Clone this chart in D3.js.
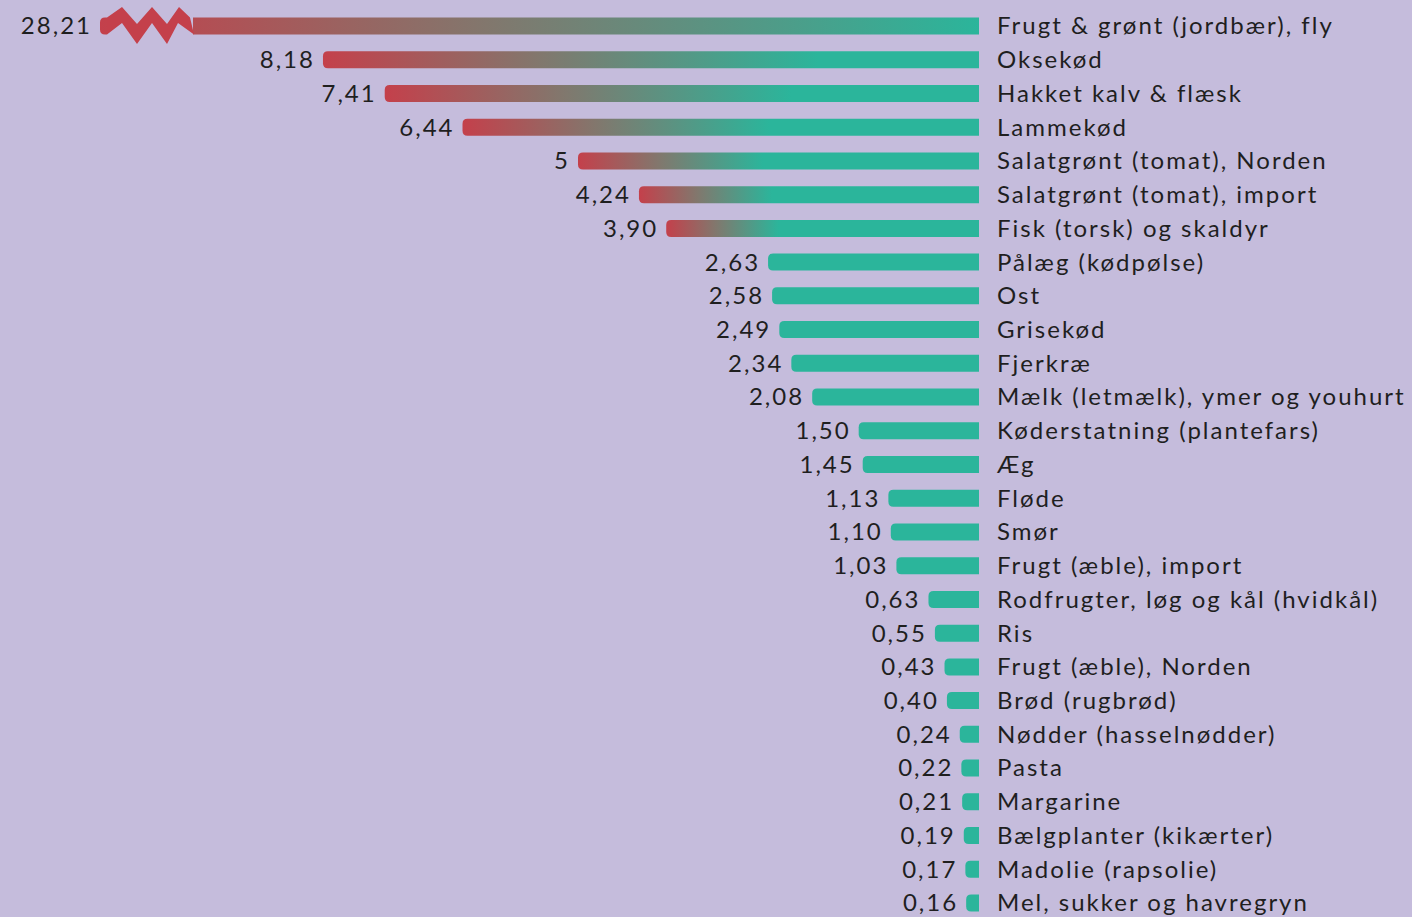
<!DOCTYPE html>
<html lang="da">
<head>
    <meta charset="UTF-8">
    <title>CO2 pr. kg fødevare</title>
    <script src="https://d3js.org/d3.v7.min.js"></script>
    <style>
        body {
            margin: 0;
            background: #c5bcdc;
            font-family: Lato, sans-serif;
        }
        svg {
            display: block;
        }
        text {
            fill: #1f1f1f;
            font-size: 24px;
            letter-spacing: 2px;
        }
    </style>
</head>
<body>
    <div id="container"></div>

    <script>
        // food names (top to bottom)
        const foods = [
            'Frugt & grønt (jordbær), fly', 'Oksekød', 'Hakket kalv & flæsk', 'Lammekød',
            'Salatgrønt (tomat), Norden', 'Salatgrønt (tomat), import', 'Fisk (torsk) og skaldyr',
            'Pålæg (kødpølse)', 'Ost', 'Grisekød', 'Fjerkræ', 'Mælk (letmælk), ymer og youhurt',
            'Køderstatning (plantefars)', 'Æg', 'Fløde', 'Smør', 'Frugt (æble), import',
            'Rodfrugter, løg og kål (hvidkål)', 'Ris', 'Frugt (æble), Norden', 'Brød (rugbrød)',
            'Nødder (hasselnødder)', 'Pasta', 'Margarine', 'Bælgplanter (kikærter)',
            'Madolie (rapsolie)', 'Mel, sukker og havregryn'
        ];

        // kg CO2e per kg
        const values = [
            28.21, 8.18, 7.41, 6.44, 5, 4.24, 3.90, 2.63, 2.58, 2.49, 2.34, 2.08, 1.50,
            1.45, 1.13, 1.10, 1.03, 0.63, 0.55, 0.43, 0.40, 0.24, 0.22, 0.21, 0.19, 0.17, 0.16
        ];

        const data = foods.map((f, i) => ({ name: f, value: values[i] }));

        const width = 1412, height = 917;
        const barRight = 979;
        const barH = 17;
        const cap = 10.96;       // longest drawn bar, larger values get a break
        const gradFrom = 3.5;    // bars above this get the red->teal gradient
        const red = '#c4404b', teal = '#2bb59b', bg = '#c5bcdc';

        const svg = d3.select('#container').append('svg')
            .attr('width', width)
            .attr('height', height);

        const x = d3.scaleLinear()
            .domain([0, cap])
            .range([barRight, 100]);

        const y = d3.scalePoint()
            .domain(foods)
            .range([26, 903]);

        // one gradient per long bar, the longer the bar the later it turns green
        const defs = svg.append('defs');
        data.forEach((d, i) => {
            if (d.value <= gradFrom) return;
            const len = barRight - x(Math.min(d.value, cap));
            const mid = Math.min(0.45, len / 2000);
            const g = defs.append('linearGradient')
                .attr('id', 'grad' + i)
                .attr('x1', '0%').attr('x2', '100%')
                .attr('y1', '0%').attr('y2', '0%');
            g.append('stop').attr('offset', 0).attr('stop-color', red);
            g.append('stop').attr('offset', mid).attr('stop-color', '#82776d');
            g.append('stop').attr('offset', Math.min(1, mid * 2.3)).attr('stop-color', teal);
            g.append('stop').attr('offset', 1).attr('stop-color', teal);
        });

        function barPath(d) {
            const x0 = x(Math.min(d.value, cap));
            const y0 = y(d.name) - barH / 2;
            const r = Math.min(5, (barRight - x0) / 2);
            return `M${x0 + r},${y0}H${barRight}V${y0 + barH}H${x0 + r}` +
                `Q${x0},${y0 + barH} ${x0},${y0 + barH - r}V${y0 + r}Q${x0},${y0} ${x0 + r},${y0}Z`;
        }

        svg.selectAll('.bar')
            .data(data)
            .enter()
            .append('path')
            .attr('class', 'bar')
            .attr('d', barPath)
            .attr('fill', (d, i) => d.value > gradFrom ? `url(#grad${i})` : teal);

        // axis break on the bars that don't fit
        data.filter(d => d.value > cap).forEach(d => {
            const cy = y(d.name);
            const bx = x(cap);
            svg.append('rect')
                .attr('x', bx + 7)
                .attr('y', cy - barH / 2 - 1)
                .attr('width', 86)
                .attr('height', barH + 2)
                .attr('fill', bg);
            const top = [[7, -8.5], [22, -19], [37, -2], [52, -19], [67, -2], [79, -19], [90, -8.5]];
            const bottom = [[94, 8.5], [78, -3], [67, 18], [52, -3], [37, 18], [22, -3], [7, 8.5]];
            svg.append('polygon')
                .attr('points', top.concat(bottom).map(p => (bx + p[0]) + ',' + (cy + p[1])).join(' '))
                .attr('fill', red);
        });

        const fmt = v => Number.isInteger(v) ? String(v) : v.toFixed(2).replace('.', ',');

        // value labels
        svg.selectAll('.val')
            .data(data)
            .enter()
            .append('text')
            .attr('class', 'val')
            .attr('x', d => x(Math.min(d.value, cap)) - 8)
            .attr('y', d => y(d.name))
            .attr('dy', '0.35em')
            .attr('text-anchor', 'end')
            .text(d => fmt(d.value));

        // food names
        svg.selectAll('.name')
            .data(data)
            .enter()
            .append('text')
            .attr('class', 'name')
            .attr('x', barRight + 18)
            .attr('y', d => y(d.name))
            .attr('dy', '0.35em')
            .text(d => d.name);
    </script>
</body>
</html>
